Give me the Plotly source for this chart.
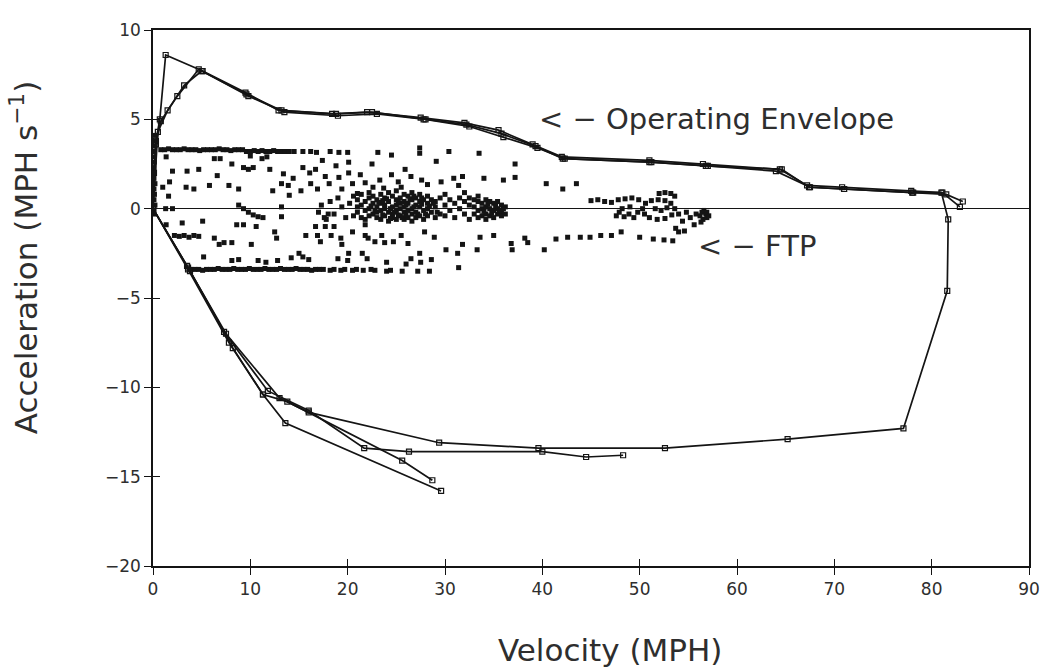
import plotly.graph_objects as go

# ---------------- Operating envelope traces (velocity MPH, acceleration MPH/s) ----------------
env_a_vel = [0, 0.1, 0.3, 0.7, 1.3, 5.1, 9.5, 12.9, 18.4, 22.0, 27.5, 32.0, 35.5, 39.0, 42.0,
             51.0, 56.5, 64.4, 67.2, 70.8, 77.9, 81.1, 82.9]
env_a_acc = [0, 2.0, 3.8, 5.0, 8.6, 7.7, 6.5, 5.5, 5.3, 5.4, 5.1, 4.8, 4.4, 3.6, 2.9,
             2.7, 2.5, 2.2, 1.3, 1.2, 1.0, 0.9, 0.1]

env_b_vel = [0, 0.3, 0.8, 2.5, 4.7, 9.8, 13.5, 19.0, 23.0, 28.0, 32.5, 36.0, 39.5, 42.3,
             51.0, 57.0, 64.0, 67.5, 71.0, 78.0, 81.5, 83.2]
env_b_acc = [0, 3.6, 4.9, 6.3, 7.8, 6.3, 5.4, 5.2, 5.3, 5.0, 4.6, 4.0, 3.4, 2.8,
             2.6, 2.4, 2.1, 1.2, 1.1, 0.9, 0.8, 0.4]

# full envelope loop: up the left side, along the top, down at ~82 MPH, back along the bottom
env_c_vel = [0, 0.5, 1.5, 3.2, 5.0, 9.6, 13.2, 18.8, 22.5, 27.8, 32.2, 35.8, 39.3, 42.1,
             51.2, 56.8, 64.6, 67.4, 71.0, 78.1, 81.0, 81.7, 81.6, 77.1, 65.2, 52.6,
             39.6, 29.4, 16.0, 13.0, 7.5, 3.6, 0]
env_c_acc = [0, 4.3, 5.5, 6.9, 7.7, 6.4, 5.5, 5.3, 5.4, 5.0, 4.7, 4.2, 3.5, 2.8,
             2.6, 2.4, 2.2, 1.2, 1.1, 0.9, 0.9, -0.6, -4.6, -12.3, -12.9, -13.4,
             -13.4, -13.1, -11.4, -10.6, -7.0, -3.3, 0]

env_d_vel = [0, 3.6, 7.8, 11.3, 13.6, 29.6]
env_d_acc = [0, -3.4, -7.5, -10.4, -12.0, -15.8]

env_e_vel = [0, 3.8, 8.2, 11.3, 13.8, 25.6, 28.7]
env_e_acc = [0, -3.5, -7.8, -10.4, -10.8, -14.1, -15.2]

env_f_vel = [0, 3.5, 7.3, 11.8, 16.0, 21.7, 26.3, 40.0, 44.5, 48.3]
env_f_acc = [0, -3.2, -6.9, -10.2, -11.3, -13.4, -13.6, -13.6, -13.9, -13.8]

# ---------------- FTP driving-cycle points ----------------
ftp_idle = [(0.15, 4.1), (0.15, 3.8), (0.1, 3.5), (0.15, 3.2), (0.1, 2.9), (0.15, 2.6),
            (0.1, 2.3), (0.15, 2.0), (0.1, 1.7), (0.2, 1.4), (0.1, 1.1), (0.15, 0.8),
            (0.1, 0.5), (0.2, 0.2), (0.1, -0.3), (1.0, 1.2), (1.6, 0.7), (1.3, 0.0),
            (2.0, 0.0)]

ftp_accel_row = [(0.8, 3.3), (1.2, 3.3), (1.6, 3.35), (2.0, 3.3), (2.4, 3.3), (2.8, 3.3),
                 (3.2, 3.35), (3.6, 3.3), (4.0, 3.3), (4.4, 3.3), (4.8, 3.25), (5.2, 3.3),
                 (5.6, 3.3), (6.0, 3.3), (6.4, 3.3), (6.8, 3.35), (7.2, 3.3), (7.6, 3.3),
                 (8.0, 3.25), (8.4, 3.3), (8.8, 3.3), (9.2, 3.3), (9.6, 3.2), (10.0, 3.2),
                 (10.4, 3.25), (10.8, 3.2), (11.2, 3.25), (11.6, 3.2), (12.0, 3.2),
                 (12.4, 3.25), (12.8, 3.2), (13.2, 3.2), (13.6, 3.2), (14.0, 3.2),
                 (14.5, 3.2), (15.4, 3.2), (16.2, 3.2), (16.8, 3.15), (18.2, 3.2),
                 (19.1, 3.15), (20.0, 3.15), (23.1, 3.15), (27.4, 3.1)]

ftp_decel_row = [(3.9, -3.4), (4.3, -3.4), (4.7, -3.4), (5.1, -3.45), (5.5, -3.4), (5.9, -3.4),
                 (6.3, -3.4), (6.7, -3.35), (7.1, -3.4), (7.5, -3.4), (7.9, -3.4), (8.3, -3.35),
                 (8.7, -3.4), (9.1, -3.4), (9.5, -3.4), (9.9, -3.35), (10.3, -3.4), (10.7, -3.4),
                 (11.1, -3.4), (11.5, -3.35), (11.9, -3.4), (12.3, -3.4), (12.7, -3.4),
                 (13.1, -3.35), (13.5, -3.4), (13.9, -3.4), (14.3, -3.4), (14.7, -3.35),
                 (15.1, -3.4), (15.5, -3.4), (15.9, -3.4), (16.3, -3.45), (16.7, -3.4),
                 (17.1, -3.4), (17.5, -3.4), (18.2, -3.45), (18.6, -3.4), (19.3, -3.45),
                 (19.7, -3.4), (20.5, -3.45), (20.9, -3.4), (21.6, -3.45), (22.4, -3.4),
                 (22.8, -3.45), (24.0, -3.5), (24.4, -3.45), (25.6, -3.5), (27.2, -3.5),
                 (28.4, -3.5), (31.4, -3.3)]

ftp_scatter = [(1.35, 2.9), (2.0, 2.1), (1.7, 1.5), (3.5, 2.1), (4.7, 2.2), (3.4, 1.2),
               (4.2, 1.1), (5.8, 1.3), (6.6, 1.85), (6.3, 2.8), (6.9, 2.8), (7.8, 1.3),
               (8.8, 1.1), (8.1, 2.5), (9.3, 2.3), (9.8, 2.2), (10.3, 2.3), (10.0, 2.95),
               (11.2, 2.8), (11.7, 2.9), (12.0, 2.2), (12.3, 1.0), (13.2, 1.4), (13.4, 1.95),
               (13.9, 1.3), (14.4, 1.7), (14.0, 0.75), (15.2, 1.0), (15.4, 2.3), (16.1, 2.0),
               (16.7, 2.2), (16.2, 1.4), (16.9, 1.1), (17.4, 2.7), (17.7, 1.8), (18.1, 1.4),
               (18.8, 2.4), (19.1, 1.75), (19.4, 1.1), (20.1, 2.6), (20.1, 2.0), (20.5, 1.4),
               (21.0, 0.85), (21.3, 1.9), (21.8, 1.45), (22.5, 2.5), (22.6, 1.2), (23.3, 1.6),
               (23.7, 1.15), (24.5, 3.0), (24.5, 1.9), (25.2, 1.5), (25.5, 1.2), (25.9, 2.2),
               (26.5, 1.8), (27.4, 3.4), (27.6, 1.6), (28.2, 1.35), (29.1, 2.65), (29.6, 1.5),
               (30.4, 3.2), (30.9, 1.7), (31.4, 1.3), (31.8, 1.8), (33.5, 3.1), (34.0, 1.7),
               (36.0, 1.6), (37.2, 2.5),
               (1.35, -0.9), (2.2, -1.5), (2.7, -1.55), (3.2, -1.5), (3.7, -1.6), (4.2, -1.5),
               (4.7, -1.55), (3.0, -0.8), (5.1, -0.7), (6.3, -1.65), (6.8, -2.0), (7.3, -1.9),
               (8.1, -1.9), (8.6, -0.9), (9.3, -0.9), (8.8, 0.2), (9.3, 0.0), (9.8, -0.2),
               (10.3, -0.35), (10.8, -0.45), (11.3, -0.5), (10.1, -2.0), (10.6, -1.0),
               (12.5, -1.3), (12.7, -1.65), (13.2, -0.45), (13.2, 0.1), (15.4, -2.7),
               (15.0, -2.5), (15.7, -1.5), (16.7, -1.0), (16.9, -1.5), (17.2, -1.85),
               (17.7, -1.0), (18.3, -1.5), (18.6, -1.0), (19.3, -1.65), (19.4, -2.0),
               (20.1, -2.5), (20.5, -1.3), (21.5, -2.5), (21.8, -0.9), (21.8, -1.5),
               (22.1, -1.65), (22.8, -1.85), (23.5, -1.5), (23.8, -1.9), (24.7, -1.85),
               (25.5, -1.5), (26.2, -1.95), (26.5, -2.8), (27.4, -2.5), (27.5, -3.0),
               (27.9, -1.3), (28.9, -1.6), (30.1, -2.3), (31.3, -2.5), (31.8, -2.0),
               (33.3, -2.3), (33.6, -1.6), (35.0, -1.5), (36.8, -1.95), (38.2, -1.65),
               (5.2, -2.7), (8.1, -2.9), (8.8, -2.85), (10.8, -2.9), (11.6, -3.0),
               (12.8, -2.9), (14.2, -2.75), (16.0, -2.85), (19.0, -2.8), (20.0, -2.9),
               (22.0, -2.8), (24.0, -3.0), (26.0, -3.1), (28.6, -2.85),
               (17.0, -0.2), (17.6, -0.5), (18.0, -0.3)]

ftp_cluster = [(17.3, 0.2), (17.8, -0.6), (18.2, 0.4), (18.6, -0.3), (19.0, 0.6), (19.4, 0.1),
               (19.8, -0.5), (20.2, 0.3), (20.6, 0.7), (20.6, -0.4),
               (21.0, 0.5), (21.0, -0.2), (21.0, 0.1), (21.4, 0.8), (21.4, 0.2), (21.4, -0.5),
               (21.8, 0.4), (21.8, -0.1), (21.8, -0.6), (22.2, 0.6), (22.2, 0.0), (22.2, -0.4),
               (22.2, 0.9), (22.6, 0.3), (22.6, -0.3), (22.6, 0.7), (23.0, 0.5), (23.0, 0.1),
               (23.0, -0.5), (23.0, -0.2), (23.4, 0.8), (23.4, 0.3), (23.4, -0.1), (23.4, -0.6),
               (23.8, 0.6), (23.8, 0.2), (23.8, -0.4), (23.8, 0.0), (24.2, 0.4), (24.2, -0.2),
               (24.2, -0.7), (24.2, 0.9), (24.6, 0.7), (24.6, 0.1), (24.6, -0.3), (24.6, -0.5),
               (25.0, 0.5), (25.0, 0.2), (25.0, -0.1), (25.0, -0.6), (25.0, 1.0), (25.4, 0.6),
               (25.4, 0.3), (25.4, 0.0), (25.4, -0.4), (25.8, 0.4), (25.8, 0.1), (25.8, -0.2),
               (25.8, -0.6), (25.8, 0.8), (26.2, 0.7), (26.2, 0.3), (26.2, -0.1), (26.2, -0.5),
               (26.6, 0.5), (26.6, 0.0), (26.6, -0.3), (26.6, 0.9), (26.6, -0.7), (27.0, 0.6),
               (27.0, 0.2), (27.0, -0.2), (27.0, -0.5), (27.4, 0.4), (27.4, 0.1), (27.4, -0.4),
               (27.4, 0.8), (27.8, 0.5), (27.8, -0.1), (27.8, -0.6), (28.2, 0.3), (28.2, 0.0),
               (28.2, -0.4), (28.2, 0.7), (28.6, 0.5), (28.6, -0.2), (29.0, 0.4), (29.0, 0.1),
               (29.0, -0.5), (29.5, 0.6), (29.5, -0.3), (30.0, 0.2), (30.0, -0.4), (30.0, 0.8),
               (30.5, 0.5), (30.5, -0.1), (31.0, 0.3), (31.0, -0.5), (31.5, 0.6), (31.5, 0.0),
               (32.0, 0.4), (32.0, -0.3), (32.0, 0.9), (32.5, 0.2), (32.5, -0.6), (32.5, 0.6),
               (33.0, 0.5), (33.0, 0.1), (33.0, -0.3), (33.4, 0.4), (33.4, -0.1), (33.4, -0.5),
               (33.4, 0.7), (33.8, 0.3), (33.8, 0.0), (33.8, -0.4), (34.2, 0.5), (34.2, 0.1),
               (34.2, -0.3), (34.2, -0.6), (34.6, 0.4), (34.6, 0.0), (34.6, -0.4), (35.0, 0.3),
               (35.0, -0.1), (35.0, -0.5), (35.4, 0.4), (35.4, 0.0), (35.4, -0.3), (35.8, 0.2),
               (35.8, -0.2), (35.8, -0.4), (36.2, 0.1), (36.2, -0.3),
               # densest core between ~22 and 29 MPH and the knot near 35 MPH
               (22.4, 0.15), (22.8, -0.1), (23.2, 0.35), (23.6, -0.35), (24.0, 0.55),
               (24.4, 0.0), (24.8, -0.2), (25.2, 0.35), (25.6, -0.5), (26.0, 0.2),
               (26.4, 0.55), (26.8, 0.1), (27.2, -0.3), (27.6, 0.25), (28.0, -0.3),
               (28.4, 0.15), (28.8, 0.3), (29.2, -0.2), (25.2, -0.35), (26.0, -0.35),
               (26.8, 0.7), (24.4, -0.55), (23.6, 0.45), (27.6, 0.6), (34.0, -0.15),
               (34.4, 0.25), (34.8, -0.25), (35.2, 0.15), (35.6, -0.15), (36.0, 0.0)]

ftp_highway = [(37.2, 1.75), (40.4, 1.4), (42.1, 1.1), (43.5, 1.4),
               (36.9, -2.3), (38.5, -1.9), (40.2, -2.3), (41.4, -1.7), (42.6, -1.6),
               (43.9, -1.6), (44.9, -1.6), (46.0, -1.5), (47.1, -1.5), (48.1, -1.3),
               (45.0, 0.45), (45.7, 0.5), (46.4, 0.4), (47.1, 0.35), (47.8, 0.5), (48.5, 0.55),
               (49.2, 0.6), (49.9, 0.5), (52.0, 0.85), (52.6, 0.9), (53.2, 0.85), (53.6, 0.7),
               (50.3, 0.0), (50.6, 0.3), (51.2, 0.45), (51.9, 0.5), (52.6, 0.45), (53.2, 0.3),
               (53.6, 0.0), (53.3, -0.35), (52.6, -0.55), (51.8, -0.6), (51.0, -0.5),
               (50.5, -0.3), (51.6, 0.0), (52.2, -0.1), (52.8, 0.05),
               (47.6, -0.4), (47.9, -0.2), (48.4, -0.45), (48.9, -0.3), (49.4, -0.5),
               (49.8, -0.2), (48.2, 0.0), (49.0, 0.1),
               (54.0, -0.3), (54.4, -0.7), (54.8, -0.2), (55.2, -0.5), (55.6, -0.9),
               (55.8, -0.3), (56.2, -0.4), (56.5, -0.6), (56.8, -0.3), (56.6, -0.1),
               (56.9, -0.5), (56.4, -0.2), (56.3, -0.75), (56.9, -0.2), (57.1, -0.4),
               (50.0, -1.6), (51.4, -1.7), (52.5, -1.75), (53.4, -1.8), (54.0, -1.3),
               (54.6, -1.25), (53.7, -1.1)]

x_ticks = [0, 10, 20, 30, 40, 50, 60, 70, 80, 90]
y_ticks = [-20, -15, -10, -5, 0, 5, 10]

INK = "#141414"
TEXT = "#2e2e2e"
FONT = "DejaVu Sans"

fig = go.Figure()

envelopes = [(env_a_vel, env_a_acc), (env_b_vel, env_b_acc), (env_c_vel, env_c_acc),
             (env_d_vel, env_d_acc), (env_e_vel, env_e_acc), (env_f_vel, env_f_acc)]
for vx, vy in envelopes:
    fig.add_trace(go.Scatter(
        x=vx, y=vy, mode="lines+markers",
        line=dict(color=INK, width=1.7),
        marker=dict(symbol="square-open", size=5, color=INK, line=dict(width=1.2)),
        hoverinfo="skip"))

ftp_points = ftp_idle + ftp_accel_row + ftp_decel_row + ftp_scatter + ftp_cluster + ftp_highway
fig.add_trace(go.Scatter(
    x=[p[0] for p in ftp_points], y=[p[1] for p in ftp_points],
    mode="markers",
    marker=dict(symbol="square", size=5, color=INK),
    hoverinfo="skip"))

# second (overlaid) axis pair carries the inward half of the crossing tick marks
fig.add_trace(go.Scatter(x=[None], y=[None], xaxis="x2", yaxis="y2", showlegend=False))

axis_common = dict(showgrid=False, showline=True, mirror=True, linecolor=INK, linewidth=1.6,
                   ticks="outside", ticklen=7, tickwidth=1.4, tickcolor=INK,
                   tickfont=dict(family=FONT, size=17, color=TEXT))

fig.update_layout(
    width=1050, height=672,
    margin=dict(l=153, r=10, t=30, b=106),
    paper_bgcolor="white", plot_bgcolor="white",
    showlegend=False,
    xaxis=dict(range=[0, 90], tickvals=x_ticks, zeroline=False, **axis_common),
    yaxis=dict(range=[-20, 10], tickvals=y_ticks, zeroline=True, zerolinecolor=INK,
               zerolinewidth=1.4, **axis_common),
    xaxis2=dict(overlaying="x", anchor="y", range=[0, 90], tickvals=x_ticks, ticks="inside",
                ticklen=7, tickwidth=1.4, tickcolor=INK, showticklabels=False,
                showline=False, showgrid=False, zeroline=False),
    yaxis2=dict(overlaying="y", anchor="x", range=[-20, 10], tickvals=y_ticks, ticks="inside",
                ticklen=7, tickwidth=1.4, tickcolor=INK, showticklabels=False,
                showline=False, showgrid=False, zeroline=False, side="left"),
    annotations=[
        dict(x=39.5, y=5.0, xref="x", yref="y", text="< − Operating Envelope",
             showarrow=False, xanchor="left", yanchor="middle",
             font=dict(family=FONT, size=29, color=TEXT)),
        dict(x=55.8, y=-2.1, xref="x", yref="y", text="< − FTP",
             showarrow=False, xanchor="left", yanchor="middle",
             font=dict(family=FONT, size=29, color=TEXT)),
        dict(x=0.522, y=-0.157, xref="paper", yref="paper", text="Velocity (MPH)",
             showarrow=False, xanchor="center", yanchor="middle",
             font=dict(family=FONT, size=31, color=TEXT)),
        dict(x=-0.148, y=0.575, xref="paper", yref="paper",
             text="Acceleration (MPH s<sup>−1</sup>)", textangle=-90,
             showarrow=False, xanchor="center", yanchor="middle",
             font=dict(family=FONT, size=31, color=TEXT)),
    ],
)

fig.write_html("out.html")
